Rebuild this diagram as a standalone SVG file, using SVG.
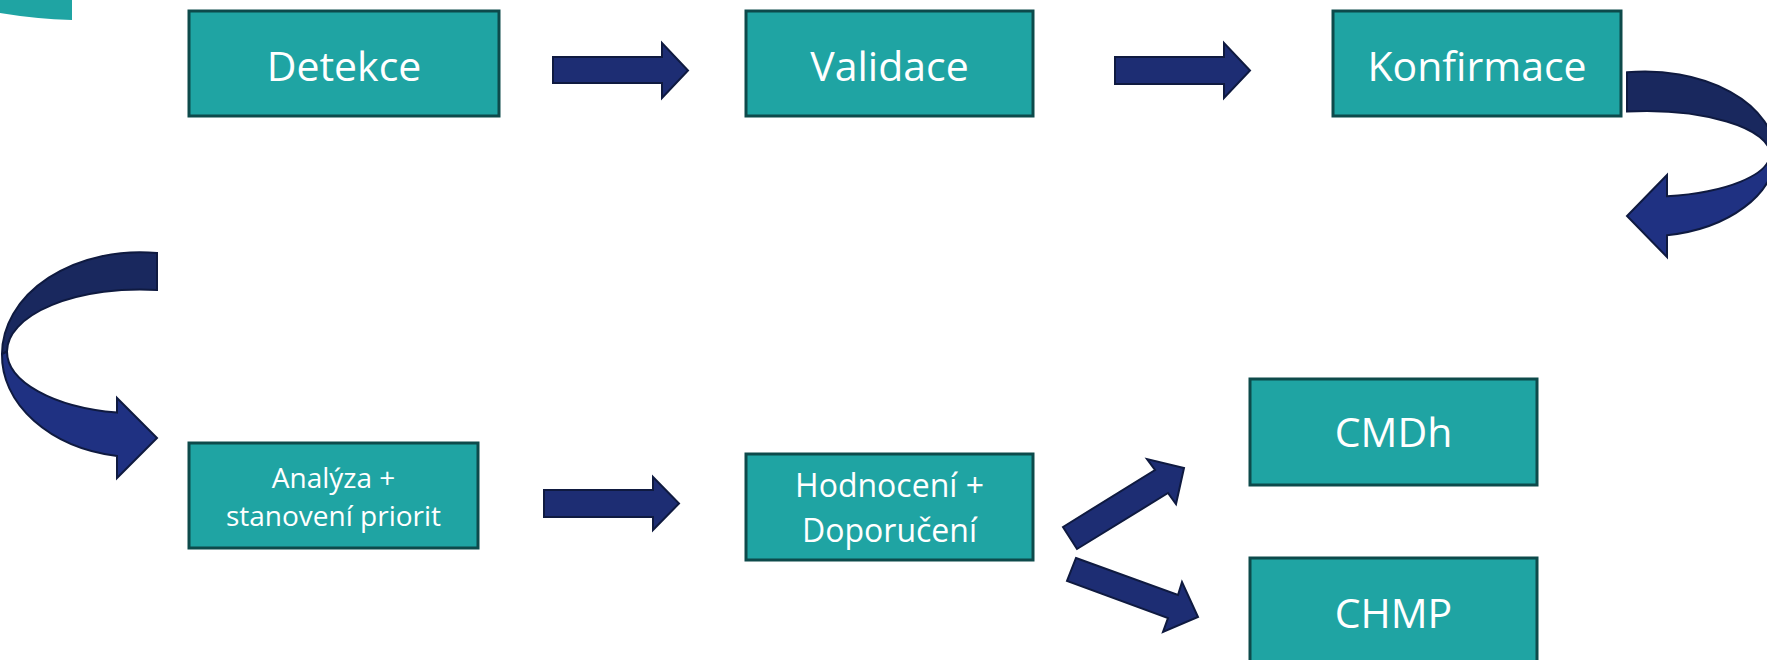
<svg xmlns="http://www.w3.org/2000/svg" width="1767" height="660" viewBox="0 0 1767 660">
  <defs>
    <style>
      .box { fill: #1fa4a3; stroke: #0d4a4b; stroke-width: 3; }
      .lbl { fill: #ffffff; font-family: "Open Sans", "Noto Sans", sans-serif; text-anchor: middle; }
      .big { font-size: 41px; }
      .mid { font-size: 32px; }
      .sm { font-size: 28px; }
      .arr { fill: #1d2d73; stroke: #0f1a40; stroke-width: 2; stroke-linejoin: miter; }
      .band-dark { fill: #19285e; stroke: #0f1a40; stroke-width: 2; }
      .band-light { fill: #1f3182; stroke: #0f1a40; stroke-width: 2; }
    </style>
  </defs>
  <rect width="1767" height="660" fill="#ffffff"/>
  <path d="M0,0 L72,0 L72,20 Q36,19 0,13 Z" fill="#1fa4a3"/>

  <g id="connectors">
    <path class="arr" d="M553,57 L662,57 L662,43 L688,70.5 L662,98 L662,83 L553,83 Z"/>
    <path class="arr" d="M1115,57 L1224,57 L1224,43 L1250,70.5 L1224,98 L1224,84 L1115,84 Z"/>
    <path class="band-dark" d="M1627,72.3 A130,82.5 0 0 1 1775,154 L1770,154 A125,43 0 0 0 1627,111.5 Z"/>
    <path class="band-light" d="M1775,154 A130,82.5 0 0 1 1667,235.3 L1667,257 L1627,216 L1667,175 L1667,196.3 A125,43 0 0 0 1770,154 Z"/>
    <path class="band-dark" d="M157,253 A138,102 0 0 0 2,354 L7,351.5 A133,62 0 0 1 157,290 Z"/>
    <path class="band-light" d="M2,354 A138,102 0 0 0 117,456 L117,478 L157,438 L117,398 L117,412.6 A133,62 0 0 1 7,351.5 Z"/>
    <path class="arr" d="M544,490 L653,490 L653,477 L679,503.5 L653,530 L653,517 L544,517 Z"/>
    <path class="arr" d="M1063,527 L1155,470 L1147,459 L1184,468 L1176,504 L1168,493 L1077,549 Z"/>
    <path class="arr" d="M1076,558 L1178,595 L1182,582 L1198,617 L1163,632 L1168,618 L1067,581 Z"/>
  </g>

  <g id="node-detekce">
    <rect class="box" x="189" y="11" width="310" height="105"/>
    <text class="lbl big" x="344" y="81">Detekce</text>
  </g>
  <g id="node-validace">
    <rect class="box" x="746" y="11" width="287" height="105"/>
    <text class="lbl big" x="889.5" y="81">Validace</text>
  </g>
  <g id="node-konfirmace">
    <rect class="box" x="1333" y="11" width="288" height="105"/>
    <text class="lbl big" x="1477" y="81">Konfirmace</text>
  </g>
  <g id="node-analyza">
    <rect class="box" x="189" y="443" width="289" height="105"/>
    <text class="lbl sm" x="333.5" y="488">Analýza +</text>
    <text class="lbl sm" x="333.5" y="526">stanovení priorit</text>
  </g>
  <g id="node-hodnoceni">
    <rect class="box" x="746" y="454" width="287" height="106"/>
    <text class="lbl mid" x="889.5" y="497">Hodnocení +</text>
    <text class="lbl mid" x="889.5" y="542">Doporučení</text>
  </g>
  <g id="node-cmdh">
    <rect class="box" x="1250" y="379" width="287" height="106"/>
    <text class="lbl big" x="1393.5" y="447">CMDh</text>
  </g>
  <g id="node-chmp">
    <rect class="box" x="1250" y="558" width="287" height="106"/>
    <text class="lbl big" x="1393.5" y="628">CHMP</text>
  </g>
</svg>
